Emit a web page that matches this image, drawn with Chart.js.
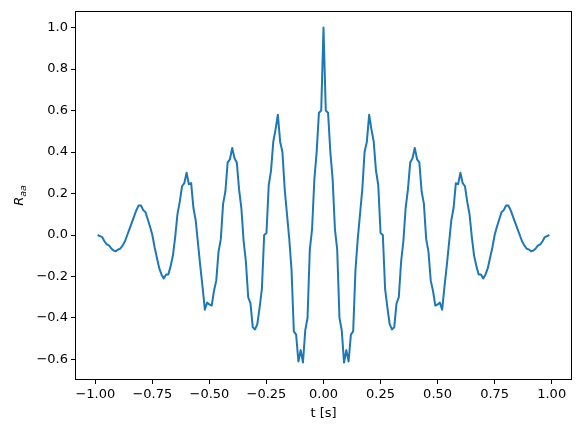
<!DOCTYPE html>
<html>
<head>
<meta charset="utf-8">
<script src="https://cdn.jsdelivr.net/npm/chart.js@4.4.1/dist/chart.umd.min.js"></script>
<style>
  html, body { margin: 0; padding: 0; background: #fff; }
  #wrap { width: 581px; height: 432px; }
</style>
</head>
<body>
<div id="wrap"><canvas id="c" width="581" height="432"></canvas></div>
<script>
// lag axis (s)
const lags = [
  -0.99,-0.98,-0.97,-0.96,-0.95,-0.94,-0.93,-0.92,-0.91,-0.90,
  -0.89,-0.88,-0.87,-0.86,-0.85,-0.84,-0.83,-0.82,-0.81,-0.80,
  -0.79,-0.78,-0.77,-0.76,-0.75,-0.74,-0.73,-0.72,-0.71,-0.70,
  -0.69,-0.68,-0.67,-0.66,-0.65,-0.64,-0.63,-0.62,-0.61,-0.60,
  -0.59,-0.58,-0.57,-0.56,-0.55,-0.54,-0.53,-0.52,-0.51,-0.50,
  -0.49,-0.48,-0.47,-0.46,-0.45,-0.44,-0.43,-0.42,-0.41,-0.40,
  -0.39,-0.38,-0.37,-0.36,-0.35,-0.34,-0.33,-0.32,-0.31,-0.30,
  -0.29,-0.28,-0.27,-0.26,-0.25,-0.24,-0.23,-0.22,-0.21,-0.20,
  -0.19,-0.18,-0.17,-0.16,-0.15,-0.14,-0.13,-0.12,-0.11,-0.10,
  -0.09,-0.08,-0.07,-0.06,-0.05,-0.04,-0.03,-0.02,-0.01,
  0.00,
  0.01,0.02,0.03,0.04,0.05,0.06,0.07,0.08,0.09,
  0.10,0.11,0.12,0.13,0.14,0.15,0.16,0.17,0.18,0.19,
  0.20,0.21,0.22,0.23,0.24,0.25,0.26,0.27,0.28,0.29,
  0.30,0.31,0.32,0.33,0.34,0.35,0.36,0.37,0.38,0.39,
  0.40,0.41,0.42,0.43,0.44,0.45,0.46,0.47,0.48,0.49,
  0.50,0.51,0.52,0.53,0.54,0.55,0.56,0.57,0.58,0.59,
  0.60,0.61,0.62,0.63,0.64,0.65,0.66,0.67,0.68,0.69,
  0.70,0.71,0.72,0.73,0.74,0.75,0.76,0.77,0.78,0.79,
  0.80,0.81,0.82,0.83,0.84,0.85,0.86,0.87,0.88,0.89,
  0.90,0.91,0.92,0.93,0.94,0.95,0.96,0.97,0.98,0.99
];

// autocorrelation R_aa
const raa = [
  0.00,-0.005,-0.01,-0.03,-0.045,-0.05,-0.065,-0.075,-0.078,-0.07,
  -0.065,-0.05,-0.03,0.00,0.03,0.06,0.09,0.12,0.142,0.142,
  0.12,0.11,0.075,0.04,0.00,-0.06,-0.11,-0.16,-0.19,-0.21,
  -0.19,-0.19,-0.15,-0.10,-0.01,0.10,0.16,0.235,0.25,0.30,
  0.245,0.25,0.13,0.07,-0.04,-0.15,-0.25,-0.36,-0.326,-0.335,
  -0.34,-0.27,-0.22,-0.08,-0.02,0.15,0.21,0.35,0.365,0.42,
  0.37,0.35,0.22,0.13,-0.03,-0.13,-0.30,-0.33,-0.445,-0.455,
  -0.43,-0.35,-0.26,0.00,0.01,0.24,0.31,0.45,0.51,0.58,
  0.45,0.40,0.22,0.10,-0.02,-0.17,-0.465,-0.48,-0.61,-0.555,
  -0.615,-0.46,-0.40,-0.07,0.03,0.27,0.40,0.59,0.60,
  1.00,
  0.60,0.59,0.40,0.27,0.03,-0.07,-0.40,-0.46,-0.615,
  -0.555,-0.61,-0.48,-0.465,-0.17,-0.02,0.10,0.22,0.40,0.45,
  0.58,0.51,0.45,0.31,0.24,0.01,0.00,-0.26,-0.35,-0.43,
  -0.455,-0.445,-0.33,-0.30,-0.13,-0.03,0.13,0.22,0.35,0.37,
  0.42,0.365,0.35,0.21,0.15,-0.02,-0.08,-0.22,-0.27,-0.34,
  -0.335,-0.326,-0.36,-0.25,-0.15,-0.04,0.07,0.13,0.25,0.245,
  0.30,0.25,0.235,0.16,0.10,-0.01,-0.10,-0.15,-0.19,-0.19,
  -0.21,-0.19,-0.16,-0.11,-0.06,0.00,0.04,0.075,0.11,0.12,
  0.142,0.142,0.12,0.09,0.06,0.03,0.00,-0.03,-0.05,-0.065,
  -0.07,-0.078,-0.075,-0.065,-0.05,-0.045,-0.03,-0.01,-0.005,0.00
];

const xTicks = [-1.0, -0.75, -0.5, -0.25, 0, 0.25, 0.5, 0.75, 1.0];
const yTicks = [-0.6, -0.4, -0.2, 0.0, 0.2, 0.4, 0.6, 0.8, 1.0];

const FONT = "'DejaVu Sans', sans-serif";
const minus = s => s.replace('-', '\u2212');

// frame + axis titles, matplotlib style
const framePlugin = {
    id: 'frame',
    afterDraw(chart) {
        const { ctx, chartArea: a } = chart;
        ctx.save();
        ctx.strokeStyle = '#000';
        ctx.lineWidth = 1;
        ctx.strokeRect(Math.round(a.left) + 0.5, Math.round(a.top) + 0.5,
                       Math.round(a.right - a.left) - 1, Math.round(a.bottom - a.top) - 1);

        ctx.fillStyle = '#000';
        ctx.font = '13px ' + FONT;
        ctx.textAlign = 'center';
        ctx.textBaseline = 'middle';
        ctx.fillText('t [s]', (a.left + a.right) / 2, 414);

        // R_aa, rotated
        ctx.translate(18, (a.top + a.bottom) / 2);
        ctx.rotate(-Math.PI / 2);
        ctx.textAlign = 'left';
        ctx.textBaseline = 'alphabetic';
        ctx.font = 'italic 13px ' + FONT;
        const wR = ctx.measureText('R').width;
        ctx.font = 'italic 9.5px ' + FONT;
        const wS = ctx.measureText('aa').width;
        const x0 = -(wR + wS) / 2;
        ctx.font = 'italic 13px ' + FONT;
        ctx.fillText('R', x0, 5);
        ctx.font = 'italic 9.5px ' + FONT;
        ctx.fillText('aa', x0 + wR, 7.5);
        ctx.restore();
    }
};

const points = lags.map((t, i) => ({ x: t, y: raa[i] }));

new Chart(document.getElementById('c'), {
    type: 'line',
    data: {
        datasets: [{
            data: points,
            borderColor: '#1f77b4',
            borderWidth: 2,
            borderJoinStyle: 'round',
            pointRadius: 0,
            tension: 0,
            fill: false
        }]
    },
    options: {
        responsive: false,
        animation: false,
        devicePixelRatio: 1,
        layout: { padding: { left: 0, top: 10, right: 9, bottom: 0 } },
        plugins: { legend: { display: false }, tooltip: { enabled: false } },
        scales: {
            x: {
                type: 'linear',
                min: -1.089,
                max: 1.089,
                afterBuildTicks: s => { s.ticks = xTicks.map(v => ({ value: v })); },
                afterFit: s => { s.height = 52; },
                ticks: {
                    color: '#000',
                    font: { family: FONT, size: 13 },
                    padding: 3,
                    maxRotation: 0,
                    autoSkip: false,
                    callback: v => minus(v.toFixed(2))
                },
                grid: { drawOnChartArea: false, drawTicks: true, tickLength: 4, color: '#000' },
                border: { display: false }
            },
            y: {
                type: 'linear',
                min: -0.699,
                max: 1.081,
                afterBuildTicks: s => { s.ticks = yTicks.map(v => ({ value: v })); },
                afterFit: s => { s.width = 75; },
                ticks: {
                    color: '#000',
                    font: { family: FONT, size: 13 },
                    padding: 3,
                    autoSkip: false,
                    callback: v => minus(v.toFixed(1))
                },
                grid: { drawOnChartArea: false, drawTicks: true, tickLength: 4, color: '#000' },
                border: { display: false }
            }
        }
    },
    plugins: [framePlugin]
});
</script>
</body>
</html>
